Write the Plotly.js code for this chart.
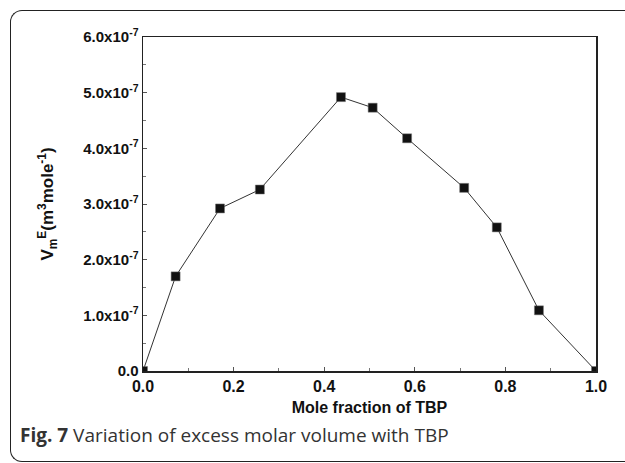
<!DOCTYPE html>
<html>
<head>
<meta charset="utf-8">
<script src="https://cdn.plot.ly/plotly-3.0.1.min.js"></script>
<style>
  html, body { margin: 0; padding: 0; background: #fff; overflow: hidden; }
  #wrap { position: relative; width: 625px; height: 463px; overflow: hidden; }
  #frame { position: absolute; left: 10px; top: 10px; width: 1200px; height: 452px;
           border-top: 1.6px solid #222; border-left: 1.6px solid #222; border-bottom: 1.6px solid #222;
           border-right: none; border-radius: 12px 0 0 12px; box-sizing: border-box; }
  #chart { position: absolute; left: 0; top: 0; width: 625px; height: 463px; }
</style>
</head>
<body>
<div id="wrap">
  <div id="frame"></div>
  <div id="chart"></div>
</div>
<script>
// Data
const moleFraction = [0.0, 0.072, 0.170, 0.258, 0.437, 0.507, 0.583, 0.709, 0.781, 0.874, 1.0];
const excessVolume = [0.0, 1.70e-7, 2.92e-7, 3.26e-7, 4.92e-7, 4.73e-7, 4.18e-7, 3.29e-7, 2.58e-7, 1.09e-7, 0.0];
const xTickVals = [0, 0.2, 0.4, 0.6, 0.8, 1.0];
const yTickVals = [0, 1e-7, 2e-7, 3e-7, 4e-7, 5e-7, 6e-7];
const yTickText = ["0.0", "1.0x10<sup>-7</sup>", "2.0x10<sup>-7</sup>", "3.0x10<sup>-7</sup>",
                   "4.0x10<sup>-7</sup>", "5.0x10<sup>-7</sup>", "6.0x10<sup>-7</sup>"];
const xTitle = "Mole fraction of TBP";
const yTitle = "V<sub>m</sub><sup>E</sup>(m<sup>3</sup>mole<sup>-1</sup>)";
const captionText = "<b>Fig. 7</b> Variation of excess molar volume with TBP";

const axisFont = { family: "Liberation Sans, Arial, sans-serif", size: 15, color: "#111", weight: "bold" };

const trace = {
  x: moleFraction,
  y: excessVolume,
  type: "scatter",
  mode: "lines+markers",
  line: { color: "#333", width: 1 },
  marker: { symbol: "square", size: 9, color: "#111", line: { color: "#777", width: 0.5 } },
  cliponaxis: true,
  hoverinfo: "skip"
};

const layout = {
  width: 625, height: 463,
  margin: { l: 143, r: 29, t: 37, b: 91.5, pad: 0 },
  paper_bgcolor: "rgba(0,0,0,0)",
  plot_bgcolor: "rgba(0,0,0,0)",
  showlegend: false,
  xaxis: {
    range: [0, 1],
    tickvals: xTickVals,
    tickformat: ".1f",
    ticks: "inside", ticklen: 4, tickwidth: 1, tickcolor: "#555",
    minor: { tickvals: [0.1, 0.3, 0.5, 0.7, 0.9], ticks: "inside", ticklen: 3, tickcolor: "#777" },
    showline: true, linecolor: "#222", linewidth: 1.5, mirror: true,
    showgrid: false, zeroline: false,
    tickfont: Object.assign({}, axisFont, { size: 16 }),
    title: { text: xTitle, font: Object.assign({}, axisFont, { size: 16 }), standoff: 8 }
  },
  yaxis: {
    range: [0, 6e-7],
    tickvals: yTickVals,
    ticktext: yTickText,
    ticks: "inside", ticklen: 4, tickwidth: 1, tickcolor: "#555",
    minor: { tickvals: [0.5e-7, 1.5e-7, 2.5e-7, 3.5e-7, 4.5e-7, 5.5e-7], ticks: "inside", ticklen: 3, tickcolor: "#777" },
    showline: true, linecolor: "#222", linewidth: 1.5, mirror: true,
    showgrid: false, zeroline: false,
    tickfont: axisFont,
    title: { text: yTitle, font: Object.assign({}, axisFont, { size: 17 }), standoff: 25 }
  },
  annotations: [{
    text: captionText,
    xref: "paper", yref: "paper",
    x: -0.276, y: -0.192,
    xanchor: "left", yanchor: "middle",
    showarrow: false,
    font: { family: "Open Sans, Noto Sans, sans-serif", size: 19, color: "#333" }
  }]
};

Plotly.newPlot("chart", [trace], layout, { displayModeBar: false, staticPlot: true });
</script>
</body>
</html>
